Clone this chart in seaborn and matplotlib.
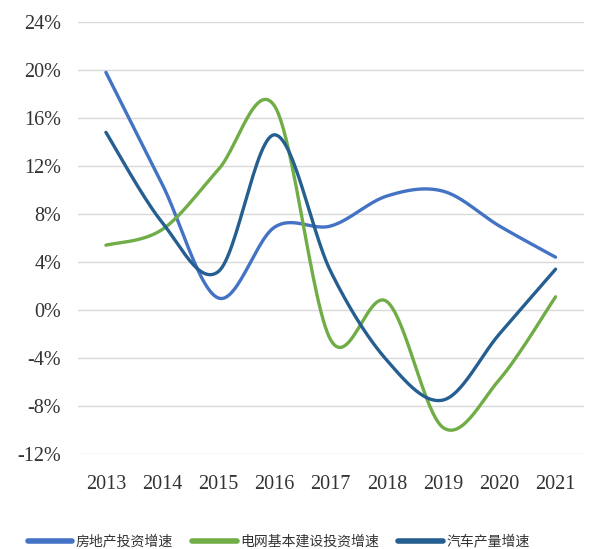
import numpy as np
import pandas as pd
import matplotlib
matplotlib.use('Agg')
import matplotlib.pyplot as plt
import seaborn as sns

# 数据（单位：%）
years = ['2013', '2014', '2015', '2016', '2017', '2018', '2019', '2020', '2021']
real_estate = [19.8, 10.5, 1.0, 6.9, 7.0, 9.5, 9.9, 7.0, 4.4]
power_grid = [5.4, 6.7, 11.7, 17.0, -2.5, 0.7, -9.8, -5.8, 1.1]
auto_output = [14.8, 7.3, 3.2, 14.6, 3.2, -4.2, -7.5, -2.0, 3.4]

series_names = ['房地产投资增速', '电网基本建设投资增速', '汽车产量增速']
colors = ['#4472C4', '#70AD47', '#255E91']


def smooth_curve(values, steps=30):
    """类似Excel平滑线的贝塞尔曲线"""
    x = np.arange(len(values), dtype=float)
    y = np.asarray(values, dtype=float)
    px = np.concatenate([[x[0]], x, [x[-1]]])
    py = np.concatenate([[y[0]], y, [y[-1]]])
    xs, ys = [], []
    t = np.linspace(0, 1, steps)
    for i in range(len(values) - 1):
        p0 = np.array([px[i + 1], py[i + 1]])
        p3 = np.array([px[i + 2], py[i + 2]])
        p1 = p0 + (p3 - np.array([px[i], py[i]])) / 6
        p2 = p3 - (np.array([px[i + 3], py[i + 3]]) - p0) / 6
        b = ((1 - t) ** 3)[:, None] * p0 + (3 * (1 - t) ** 2 * t)[:, None] * p1 \
            + (3 * (1 - t) * t ** 2)[:, None] * p2 + (t ** 3)[:, None] * p3
        xs.extend(b[:, 0])
        ys.extend(b[:, 1])
    return xs, ys


frames = []
for name, vals in zip(series_names, [real_estate, power_grid, auto_output]):
    xs, ys = smooth_curve(vals)
    frames.append(pd.DataFrame({'x': xs, 'y': ys, 'series': name}))
df = pd.concat(frames, ignore_index=True)

sns.set_style('white')
plt.rcParams['font.family'] = ['Liberation Serif', 'Noto Sans CJK SC', 'DejaVu Sans']
plt.rcParams['axes.unicode_minus'] = False

fig = plt.figure(figsize=(6.08, 5.49), dpi=100)
ax = fig.add_axes([0.128, 0.173, 0.832, 0.787])

sns.lineplot(data=df, x='x', y='y', hue='series', hue_order=series_names,
             palette=colors, sort=False, estimator=None, linewidth=2.4, ax=ax)

ax.set_xlim(-0.5, len(years) - 0.5)
ax.set_ylim(-12, 24)
yticks = np.arange(-12, 25, 4)
ax.set_yticks(yticks)
ax.set_yticklabels([f'{v}%' for v in yticks])
ax.set_xticks(range(len(years)))
ax.set_xticklabels(years)
ax.tick_params(axis='y', length=0, pad=12, labelsize=14.5, labelcolor='#333333')
ax.tick_params(axis='x', length=0, pad=15, labelsize=14.5, labelcolor='#333333')
ax.yaxis.grid(True, color='#D9D9D9', linewidth=1)
ax.xaxis.grid(False)
ax.set_axisbelow(True)
for s in ax.spines.values():
    s.set_visible(False)
ax.set_xlabel('')
ax.set_ylabel('')

handles, labels = ax.get_legend_handles_labels()
ax.get_legend().remove()
fig.legend(handles, labels, loc='center', bbox_to_anchor=(0.458, 0.013), ncol=3,
           frameon=False, handlelength=3.2, handletextpad=0.25, columnspacing=1.4,
           prop={'family': ['Noto Sans CJK SC'], 'size': 10},
           labelcolor='#333333')
for line in fig.legends[0].get_lines():
    line.set_linewidth(4)

fig.savefig('out.png', dpi=100)
